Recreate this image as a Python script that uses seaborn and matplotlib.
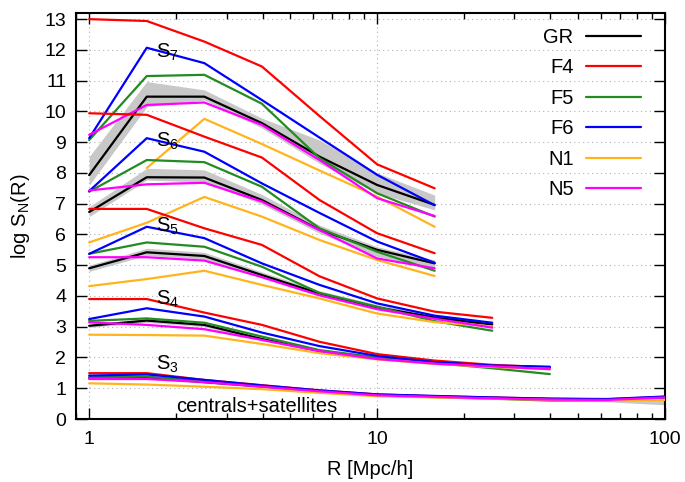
import numpy as np
import pandas as pd
import matplotlib
matplotlib.use("Agg")
import matplotlib.pyplot as plt
from matplotlib.lines import Line2D
from matplotlib.ticker import FixedLocator, FixedFormatter, LogLocator, NullFormatter
import seaborn as sns

# ---------------- data ----------------
R = [1.0, 1.585, 2.512, 3.981, 6.310, 10.0, 15.85, 25.12, 39.81, 63.10, 100.0]
models = ["GR", "F4", "F5", "F6", "N1", "N5"]
nan = np.nan

S7_GR = [7.93, 10.48, 10.48, 9.62, 8.53, 7.61, 6.96]
S7_F4 = [13.0, 12.94, 12.27, 11.46, 9.85, 8.28, 7.50]
S7_F5 = [9.07, 11.15, 11.19, 10.25, 8.48, 7.34, 6.58]
S7_F6 = [9.13, 12.07, 11.57, 10.37, 9.15, 7.94, 6.95]
S7_N1 = [nan, 8.16, 9.76, 8.94, 8.08, 7.23, 6.25]
S7_N5 = [9.24, 10.21, 10.29, 9.56, 8.42, 7.18, 6.60]
S7_lo = [7.60, 10.15, 10.37, 9.46, 8.31, 7.34, 6.80]
S7_hi = [8.53, 10.97, 10.70, 9.78, 9.07, 8.00, 7.28]

S6_GR = [6.73, 7.86, 7.85, 7.12, 6.15, 5.50, 5.06]
S6_F4 = [9.94, 9.89, 9.18, 8.50, 7.12, 6.04, 5.39]
S6_F5 = [7.39, 8.42, 8.35, 7.55, 6.20, 5.44, 4.82]
S6_F6 = [7.41, 9.13, 8.69, 7.66, 6.70, 5.77, 5.08]
S6_N1 = [5.74, 6.38, 7.22, 6.58, 5.82, 5.17, 4.65]
S6_N5 = [7.43, 7.63, 7.68, 7.07, 6.14, 5.22, 4.90]
S6_lo = [6.58, 7.77, 7.70, 6.98, 6.04, 5.28, 4.90]
S6_hi = [6.90, 8.15, 8.10, 7.30, 6.30, 5.60, 5.17]

S5_GR = [4.90, 5.42, 5.30, 4.68, 4.08, 3.63, 3.30, 3.07]
S5_F4 = [6.83, 6.83, 6.20, 5.66, 4.64, 3.92, 3.49, 3.29]
S5_F5 = [5.37, 5.74, 5.60, 4.95, 4.10, 3.65, 3.18, 2.87]
S5_F6 = [5.37, 6.25, 5.88, 5.06, 4.36, 3.76, 3.36, 3.13]
S5_N1 = [4.32, 4.55, 4.82, 4.36, 3.92, 3.43, 3.15, 3.01]
S5_N5 = [5.26, 5.26, 5.15, 4.61, 4.02, 3.57, 3.26, 2.97]
S5_lo = [4.80, 5.32, 5.20, 4.60, 4.00, 3.56, 3.24, 3.01]
S5_hi = [5.00, 5.55, 5.42, 4.78, 4.17, 3.72, 3.38, 3.14]

S4_GR = [3.03, 3.20, 3.06, 2.60, 2.21, 1.98, 1.82, 1.72, 1.66]
S4_F4 = [3.90, 3.90, 3.46, 3.06, 2.51, 2.11, 1.90, 1.76, 1.68]
S4_F5 = [3.19, 3.27, 3.13, 2.68, 2.24, 2.00, 1.82, 1.65, 1.46]
S4_F6 = [3.25, 3.60, 3.33, 2.81, 2.37, 2.05, 1.85, 1.74, 1.70]
S4_N1 = [2.74, 2.73, 2.71, 2.44, 2.14, 1.94, 1.79, 1.69, 1.63]
S4_N5 = [3.14, 3.06, 2.92, 2.57, 2.21, 1.95, 1.80, 1.71, 1.62]
S4_lo = [2.98, 3.14, 3.00, 2.55, 2.17, 1.94, 1.78, 1.68, 1.60]
S4_hi = [3.08, 3.27, 3.12, 2.66, 2.26, 2.02, 1.86, 1.76, 1.72]

S3_GR = [1.33, 1.35, 1.20, 1.06, 0.91, 0.78, 0.73, 0.69, 0.65, 0.63, 0.68]
S3_F4 = [1.49, 1.49, 1.27, 1.10, 0.93, 0.80, 0.74, 0.70, 0.66, 0.64, 0.72]
S3_F5 = [1.36, 1.38, 1.22, 1.06, 0.90, 0.77, 0.71, 0.66, 0.60, 0.60, 0.70]
S3_F6 = [1.41, 1.45, 1.27, 1.09, 0.93, 0.80, 0.75, 0.70, 0.66, 0.65, 0.73]
S3_N1 = [1.16, 1.12, 1.05, 0.97, 0.85, 0.74, 0.70, 0.66, 0.62, 0.60, 0.62]
S3_N5 = [1.30, 1.30, 1.20, 1.05, 0.90, 0.77, 0.72, 0.67, 0.63, 0.62, 0.70]
S3_lo = [1.29, 1.30, 1.16, 1.02, 0.88, 0.75, 0.70, 0.65, 0.60, 0.56, 0.46]
S3_hi = [1.37, 1.40, 1.24, 1.10, 0.95, 0.82, 0.77, 0.73, 0.70, 0.70, 0.78]

stat_names = ["S7", "S6", "S5", "S4", "S3"]
stat_labels = ["S$_7$", "S$_6$", "S$_5$", "S$_4$", "S$_3$"]
label_pos_y = [11.74, 8.86, 6.09, 3.71, 1.59]

# ---------------- style ----------------
sns.set_style("ticks")
plt.rcParams["font.family"] = ["Liberation Sans", "DejaVu Sans"]
plt.rcParams["mathtext.default"] = "regular"
for key in ["text.color", "axes.labelcolor", "xtick.color", "ytick.color",
            "xtick.labelcolor", "ytick.labelcolor"]:
    plt.rcParams[key] = "black"

colors = {"GR": "#000000", "F4": "#ff0000", "F5": "#228b22",
          "F6": "#0000ff", "N1": "#ffb41e", "N5": "#ff00ff"}

fig = plt.figure(figsize=(6.85, 4.82), dpi=100)
ax = fig.add_axes([76 / 685, 1 - 419 / 482, 589 / 685, 406 / 482])

g = globals()
for sname in stat_names:
    n = len(g[f"{sname}_GR"])
    xs = R[:n]
    ax.fill_between(xs, g[f"{sname}_lo"], g[f"{sname}_hi"], color="#c8c8c8",
                    lw=0, zorder=1)
    rows = []
    for m in models:
        for x, v in zip(xs, g[f"{sname}_{m}"]):
            rows.append({"R": x, "val": v, "model": m})
    df = pd.DataFrame(rows).dropna()
    sns.lineplot(data=df, x="R", y="val", hue="model", hue_order=models,
                 palette=colors, estimator=None, sort=False, legend=False,
                 lw=1.6, ax=ax, zorder=3)

ax.set_xscale("log")
ax.set_xlim(0.9, 100)
ax.set_ylim(0, 13.2)

ax.xaxis.set_major_locator(FixedLocator([1, 10, 100]))
ax.xaxis.set_major_formatter(FixedFormatter(["1", "10", "100"]))
ax.xaxis.set_minor_locator(LogLocator(base=10, subs=np.arange(2, 10)))
ax.xaxis.set_minor_formatter(NullFormatter())
ax.set_yticks(range(0, 14))

ax.tick_params(which="both", direction="in", top=True, right=True,
               labelsize=14, width=1.0, color="black", labelcolor="black")
ax.tick_params(axis="x", which="major", length=8, pad=9)
ax.tick_params(axis="y", which="major", length=8, pad=7)
ax.tick_params(which="minor", length=4)
for sp in ax.spines.values():
    sp.set_linewidth(1.5)
    sp.set_color("black")

ax.grid(True, which="major", ls=(0, (1, 3)), color="#b0b0b0", lw=0.8)
ax.set_axisbelow(True)

ax.set_xlabel("R [Mpc/h]", fontsize=14.5, labelpad=8)
ax.set_ylabel("log S$_N$(R)", fontsize=14.5, labelpad=9)

for lab, yy in zip(stat_labels, label_pos_y):
    ax.text(1.71, yy, lab, fontsize=14.5, ha="left", va="baseline", zorder=5)
ax.text(2.005, 0.24, "centrals+satellites", fontsize=14.5, ha="left",
        va="baseline", zorder=5)

handles = [Line2D([], [], color=colors[m], lw=1.6) for m in models]
leg = ax.legend(handles, models, loc="upper right", markerfirst=False,
                frameon=False, fontsize=14.5, handlelength=2.75,
                handletextpad=0.6, labelspacing=0.57, borderaxespad=0,
                borderpad=0, bbox_to_anchor=(565 / 589, 1 - 15 / 406))

fig.savefig("out.png", dpi=100)
